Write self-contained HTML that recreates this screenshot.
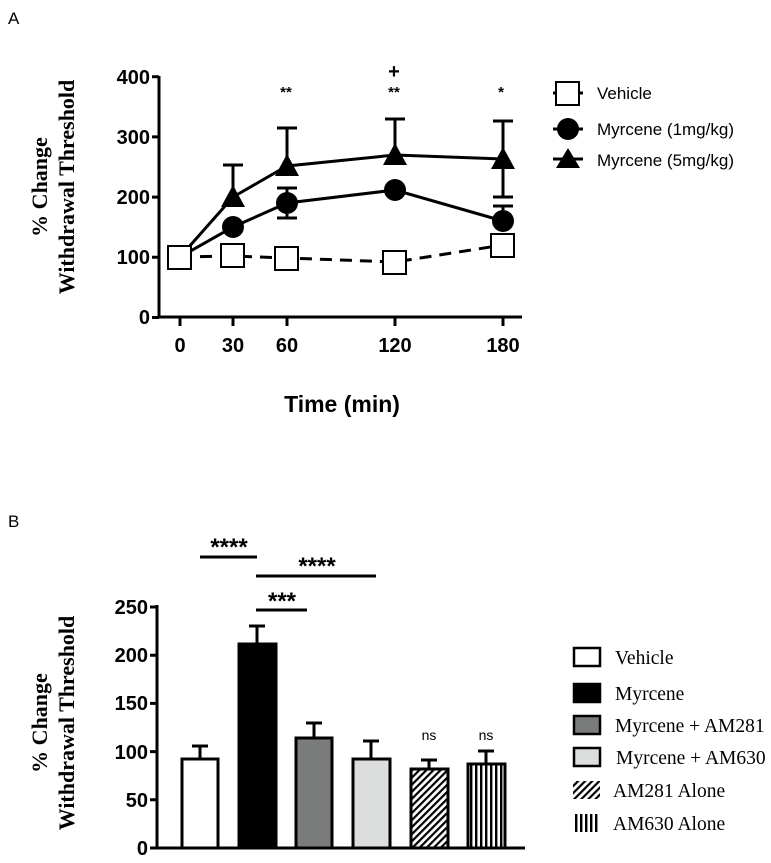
<!DOCTYPE html>
<html><head><style>body{margin:0;background:#fff}svg{display:block}</style></head><body>
<svg width="771" height="863" xmlns="http://www.w3.org/2000/svg">
<defs>
<pattern id="diag" width="5" height="5" patternUnits="userSpaceOnUse" patternTransform="rotate(45)"><rect width="5" height="5" fill="#fff"/><rect width="2.2" height="5" fill="#000"/></pattern>
<pattern id="vert" width="5" height="5" patternUnits="userSpaceOnUse"><rect width="5" height="5" fill="#fff"/><rect width="2.4" height="5" fill="#000"/></pattern>
</defs>
<g font-family="Liberation Sans, sans-serif">
<text x="8" y="24" font-size="17">A</text>
<text x="8" y="527" font-size="17">B</text>
</g>
<!-- Chart A -->
<g stroke="#000" stroke-width="3" fill="none">
<path d="M159,76 V317 H522"/>
<path d="M152,76.7H159M152,136.9H159M152,197.1H159M152,257.3H159M152,317.5H159"/>
<path d="M180,317V326M233,317V326M287,317V326M395,317V326M503,317V326"/>
</g>
<g font-family="Liberation Sans, sans-serif" font-weight="bold" font-size="20" text-anchor="end">
<text x="150" y="84">400</text><text x="150" y="144">300</text><text x="150" y="204">200</text><text x="150" y="264">100</text><text x="150" y="324">0</text>
</g>
<g font-family="Liberation Sans, sans-serif" font-weight="bold" font-size="20" text-anchor="middle">
<text x="180" y="352">0</text><text x="233" y="352">30</text><text x="287" y="352">60</text><text x="395" y="352">120</text><text x="503" y="352">180</text>
<text x="342" y="412" font-size="23">Time (min)</text>
<text x="286" y="97" font-size="15">**</text><text x="394" y="97" font-size="15">**</text><text x="501" y="97" font-size="15">*</text>
<text x="394" y="78" font-size="20">+</text>
</g>
<g font-family="Liberation Serif, serif" font-weight="bold" font-size="22" text-anchor="middle">
<text transform="translate(47,187) rotate(-90)">% Change</text>
<text transform="translate(74,187) rotate(-90)">Withdrawal Threshold</text>
</g>
<!-- series A -->
<g stroke="#000" stroke-width="3" fill="none">
<path d="M233,197V165M223,165H243M287,166V128M277,128H297M395,155V119M385,119H405M503,159V121M493,121H513M503,159V197M493,197H513"/>
<path d="M287,203V188M277,188H297M287,203V218M277,218H297M503,221V206M493,206H513"/>
<polyline points="180,257 233,197 287,166 395,155 503,159" />
<polyline points="180,257 233,227 287,203 395,190 503,221" />
<polyline points="180,257 233,256 287,258 395,262 503,245" stroke-dasharray="12,8"/>
</g>
<g fill="#000">
<path d="M233,185 L245,207 L221,207Z"/><path d="M287,154 L299,176 L275,176Z"/><path d="M395,143 L407,165 L383,165Z"/><path d="M503,147 L515,169 L491,169Z"/>
<circle cx="233" cy="227" r="11"/><circle cx="287" cy="203" r="11"/><circle cx="395" cy="190" r="11"/><circle cx="503" cy="221" r="11"/>
</g>
<g fill="#fff" stroke="#000" stroke-width="2">
<rect x="168" y="246" width="23" height="23"/><rect x="221" y="244" width="23" height="23"/><rect x="275" y="247" width="23" height="23"/><rect x="383" y="251" width="23" height="23"/><rect x="491" y="234" width="23" height="23"/>
</g>
<!-- legend A -->
<g stroke="#000" stroke-width="3"><path d="M553,93H583M553,129H583M553,159H583"/></g>
<rect x="556" y="82" width="23" height="23" fill="#fff" stroke="#000" stroke-width="2"/>
<circle cx="568" cy="129" r="11"/>
<path d="M568,148 L580,168 L556,168Z"/>
<g font-family="Liberation Sans, sans-serif" font-size="17">
<text x="597" y="99">Vehicle</text><text x="597" y="135">Myrcene (1mg/kg)</text><text x="597" y="166">Myrcene (5mg/kg)</text>
</g>
<!-- Chart B -->
<g stroke="#000" stroke-width="3" fill="none">
<path d="M157,605V848H525"/>
<path d="M150,607H157M150,655.2H157M150,703.4H157M150,751.6H157M150,799.8H157M150,848H157"/>
</g>
<g font-family="Liberation Sans, sans-serif" font-weight="bold" font-size="20" text-anchor="end">
<text x="148" y="614">250</text><text x="148" y="662">200</text><text x="148" y="710">150</text><text x="148" y="759">100</text><text x="148" y="807">50</text><text x="148" y="855">0</text>
</g>
<g font-family="Liberation Serif, serif" font-weight="bold" font-size="22" text-anchor="middle">
<text transform="translate(47,723) rotate(-90)">% Change</text>
<text transform="translate(74,723) rotate(-90)">Withdrawal Threshold</text>
</g>
<g stroke="#000" stroke-width="3">
<path d="M200,759V746M192,746H208M257,644V626M249,626H265M314,738V723M306,723H322M371,759V741M363,741H379M429,769V760M421,760H437M486,764V751M478,751H494"/>
<rect x="182" y="759" width="36" height="89" fill="#fff"/>
<rect x="239" y="644" width="37" height="204" fill="#000"/>
<rect x="296" y="738" width="36" height="110" fill="#7a7c7b"/>
<rect x="353" y="759" width="37" height="89" fill="#dcdedd"/>
<rect x="411" y="769" width="37" height="79" fill="url(#diag)"/>
<rect x="468" y="764" width="37" height="84" fill="url(#vert)"/>
<path d="M200,557H257M256,576H376M256,610H307"/>
</g>
<g font-family="Liberation Sans, sans-serif" font-weight="bold" font-size="24" text-anchor="middle">
<text x="229" y="555">****</text><text x="317" y="574">****</text><text x="282" y="609">***</text>
</g>
<g font-family="Liberation Sans, sans-serif" font-size="14" text-anchor="middle">
<text x="429" y="740">ns</text><text x="486" y="740">ns</text>
</g>
<!-- legend B -->
<g stroke="#000" stroke-width="2.5">
<rect x="574" y="648" width="26" height="18" fill="#fff"/>
<rect x="574" y="684" width="26" height="18" fill="#000"/>
<rect x="574" y="716" width="26" height="18" fill="#7a7c7b"/>
<rect x="574" y="748" width="26" height="18" fill="#dcdedd"/>
</g>
<rect x="573" y="781" width="27" height="18" fill="url(#diag)"/>
<rect x="573" y="814" width="27" height="18" fill="url(#vert)"/>
<g font-family="Liberation Serif, serif" font-size="19.5">
<text x="615" y="664">Vehicle</text>
<text x="615" y="700">Myrcene</text>
<text x="615" y="732">Myrcene + AM281</text>
<text x="616" y="764">Myrcene + AM630</text>
<text x="613" y="797">AM281 Alone</text>
<text x="613" y="830">AM630 Alone</text>
</g>
</svg>
</body></html>
